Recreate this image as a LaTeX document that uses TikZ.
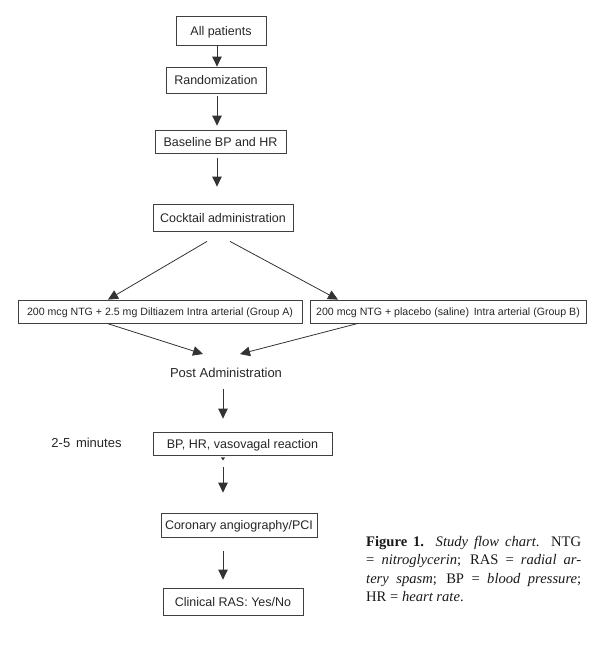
\documentclass[tikz,border=0pt]{standalone}
\usepackage{fontspec}
\setmainfont{Liberation Serif}
\newfontfamily\chartfont{Liberation Sans}
\usetikzlibrary{arrows.meta,calc}
\begin{document}
\begin{tikzpicture}[x=1pt,y=-1pt,
  box/.style={draw=black!75,line width=0.8pt,minimum height=#1,inner sep=0pt,text height=9pt,text depth=0pt,font=\chartfont\fontsize{12.5}{14}\selectfont,text=black!85},
  gbox/.style={draw=black!75,line width=0.8pt,minimum height=23pt,inner sep=0pt,text height=8pt,text depth=0pt,font=\chartfont\fontsize{10.6}{13}\selectfont,text=black!85},
  plain/.style={inner sep=0pt,font=\chartfont\fontsize{13}{15}\selectfont,text=black!85},
  arr/.style={draw=black!80,line width=0.8pt,-{Triangle[width=9.5pt,length=10pt]}}]
\useasboundingbox (0,0) rectangle (598,646);
\node[box=29pt,minimum width=90pt] (allp) at (221,30.5) {All patients};
\node[box=26pt,minimum width=100pt] (rand) at (216,80) {Randomization};
\node[box=23pt,minimum width=131pt] (base) at (220.5,141.5) {Baseline BP and HR};
\node[box=27pt,minimum width=140pt] (cock) at (223,217.5) {Cocktail administration};
\node[gbox,minimum width=284pt] (ga) at (160,311.5) {200 mcg NTG + 2.5 mg Diltiazem Intra arterial (Group A)};
\node[gbox,minimum width=276pt] (gb) at (448,311.5) {200 mcg NTG + placebo (saline)\, Intra arterial (Group B)};
\node[plain] (post) at (226,373) {Post Administration};
\node[plain] (mins) at (86.5,443) {2-5\, minutes};
\node[box=23pt,minimum width=179pt] (bp) at (242.5,443.5) {BP, HR, vasovagal reaction};
\node[box=24pt,minimum width=156pt] (cor) at (239,525) {Coronary angiography/PCI};
\node[box=27pt,minimum width=140pt] (clin) at (233,601.5) {Clinical RAS: Yes/No};
\coordinate (vx) at (217,0);
\coordinate (wx) at (223,0);
\draw[arr] (allp.south -| vx) -- (rand.north -| vx);
\draw[arr,shorten <=3pt,shorten >=4pt] (rand.south -| vx) -- (base.north -| vx);
\draw[arr,shorten <=5pt,shorten >=17pt] (base.south -| vx) -- (cock.north -| vx);
\draw[arr] ($(cock.south)+(-16,10)$) -- (ga.north -| 108,0);
\draw[arr] ($(cock.south)+(7,10)$) -- (gb.north -| 338,0);
\draw[arr] (ga.south -| 107,0) -- ($(post.north)+(-23,-14)$);
\draw[arr] (gb.south -| 358,0) -- ($(post.north)+(14,-14)$);
\draw[arr,shorten <=11pt,shorten >=13pt] (post.south -| wx) -- (bp.north -| wx);
\fill[black!80] ($(bp.south -| wx)+(-2,2)$) -- ++(4,0) -- ++(-2,3) -- cycle;
\draw[arr,shorten <=12pt,shorten >=20pt] (bp.south -| wx) -- (cor.north -| wx);
\draw[arr,shorten <=14pt,shorten >=8pt] (cor.south -| wx) -- (clin.north -| wx);
\node[anchor=north west,inner sep=0pt,font=\fontsize{14.6}{18.3}\selectfont,text=black!90] (cap) at (366,536)
 {\parbox{215pt}{\spaceskip=0.25em plus 0.6em minus 0.1em
 \textbf{Figure 1.} \textit{Study flow chart}. NTG\linebreak
 = \textit{nitroglycerin}; RAS = \textit{radial ar-}\linebreak
 \textit{tery spasm}; BP = \textit{blood pressure};\linebreak
 HR = \textit{heart rate}.}};
\end{tikzpicture}
\end{document}
